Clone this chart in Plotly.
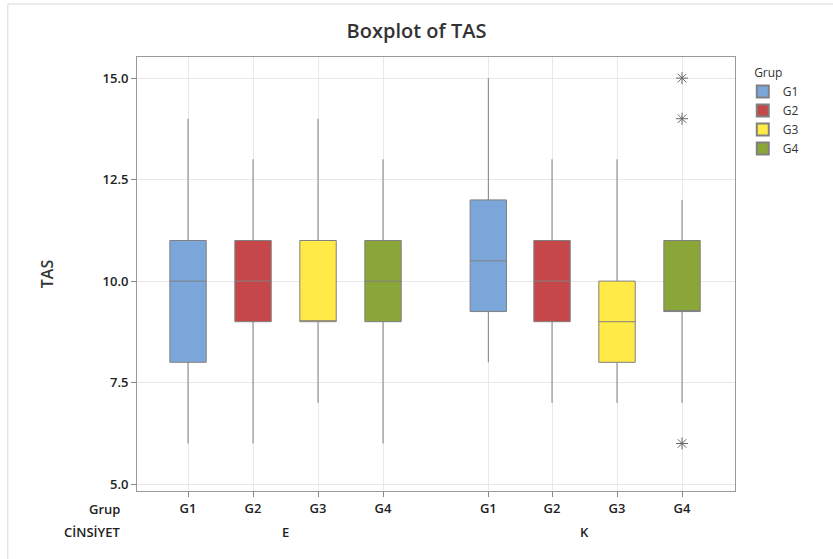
import plotly.graph_objects as go

# Group labels and gender panels
groups = ["G1", "G2", "G3", "G4"]
genders = ["E", "K"]
colors = ["#7BA6D9", "#C6474A", "#FFEA47", "#8AA639"]

# Positions of the category slots on the x axis (E block, then K block after a gap)
pos_E = [1, 2, 3, 4]
pos_K = [5.62, 6.6, 7.6, 8.6]

# Five-number summaries of TAS per group: [E, K]
q1 = {"G1": [8, 9.25], "G2": [9, 9], "G3": [9, 8], "G4": [9, 9.25]}
median = {"G1": [10, 10.5], "G2": [10, 10], "G3": [9, 9], "G4": [10, 9.25]}
q3 = {"G1": [11, 12], "G2": [11, 11], "G3": [11, 10], "G4": [11, 11]}
low = {"G1": [6, 8], "G2": [6, 7], "G3": [7, 7], "G4": [6, 7]}
high = {"G1": [14, 15], "G2": [13, 13], "G3": [14, 13], "G4": [13, 12]}

# Outliers (K, G4)
outlier_y = [15, 14, 6]

fig = go.Figure()
for i, g in enumerate(groups):
    fig.add_trace(go.Box(
        name=g,
        x=[pos_E[i], pos_K[i]],
        q1=q1[g], median=median[g], q3=q3[g],
        lowerfence=low[g], upperfence=high[g],
        fillcolor=colors[i],
        line=dict(color="#808080", width=1),
        whiskerwidth=0,
        width=0.56,
        boxpoints=False,
        hoverinfo="skip",
    ))

fig.add_trace(go.Scatter(
    x=[pos_K[3]] * len(outlier_y), y=outlier_y,
    mode="markers",
    marker=dict(symbol="asterisk-open", size=10, color="#666666",
                line=dict(color="#666666", width=1)),
    showlegend=False, hoverinfo="skip",
))

font = "Open Sans"
label_font = dict(family=font, size=13, color="#222222", weight=600)

fig.update_layout(
    width=833, height=559,
    paper_bgcolor="white", plot_bgcolor="white",
    margin=dict(l=137, r=98, t=57, b=68),
    title=dict(text="Boxplot of TAS", x=0.5, xanchor="center", y=0.945,
               yanchor="middle",
               font=dict(family=font, size=20, color="#333333", weight=600)),
    showlegend=True,
    legend=dict(
        title=dict(text="   Grup", font=dict(family=font, size=12, color="#333333")),
        font=dict(family=font, size=12, color="#333333"),
        x=1.013, xanchor="left", y=0.99, yanchor="top",
        tracegroupgap=0, itemsizing="constant",
    ),
    boxgap=0,
)

fig.update_yaxes(
    range=[4.83, 15.52],
    tickvals=[5, 7.5, 10, 12.5, 15],
    ticktext=["5.0", "7.5", "10.0", "12.5", "15.0"],
    tickfont=label_font,
    ticks="outside", ticklen=5, tickcolor="#888888",
    showgrid=True, gridcolor="#e9e9e9", gridwidth=1,
    showline=True, linecolor="#9a9a9a", linewidth=1, mirror=True,
    zeroline=False,
    title=dict(text="TAS", standoff=44,
               font=dict(family=font, size=16, color="#333333", weight=600)),
)

fig.update_xaxes(
    range=[0.215, 9.415],
    tickvals=pos_E + pos_K,
    ticktext=groups + groups,
    tickfont=label_font,
    ticks="outside", ticklen=5, tickcolor="#888888",
    showgrid=True, gridcolor="#e9e9e9", gridwidth=1,
    showline=True, linecolor="#9a9a9a", linewidth=1, mirror=True,
    zeroline=False,
)

# Row headers and the second-level (CİNSİYET) labels
fig.add_annotation(text="Grup", xref="paper", yref="paper", x=-0.025, y=-0.017,
                   xanchor="right", yanchor="top", showarrow=False,
                   font=label_font)
fig.add_annotation(text="CİNSİYET", xref="paper", yref="paper", x=-0.025, y=-0.068,
                   xanchor="right", yanchor="top", showarrow=False,
                   font=label_font)
for gender, pos in zip(genders, [pos_E, pos_K]):
    fig.add_annotation(text=gender, xref="x", yref="paper",
                       x=sum(pos) / len(pos), y=-0.068,
                       xanchor="center", yanchor="top", showarrow=False,
                       font=label_font)

# Light frame around the whole graph
fig.add_shape(type="rect", xref="paper", yref="paper",
              x0=-0.216, x1=1.3, y0=-0.3, y1=1.122,
              line=dict(color="#d9d9d9", width=1), fillcolor="rgba(0,0,0,0)",
              layer="below")

fig.write_html("out.html")
